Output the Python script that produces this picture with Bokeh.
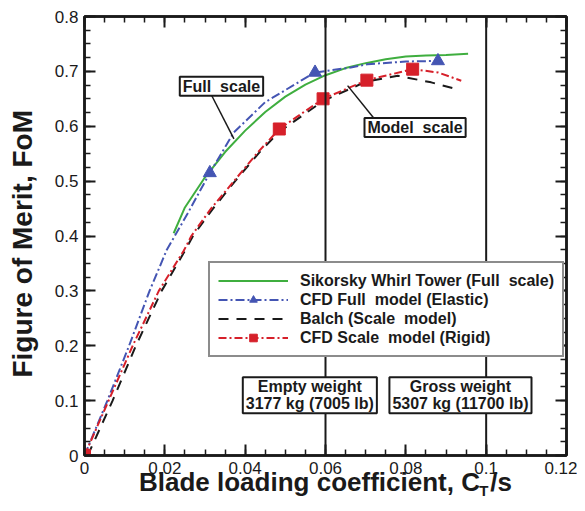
from bokeh.plotting import figure
from bokeh.models import (Range1d, LinearAxis, FixedTicker, NumeralTickFormatter, Span,
                          Label, Legend, LegendItem, Arrow, CustomJSTickFormatter)
from bokeh.embed import file_html
from bokeh.resources import INLINE

# ---- data ----
whirl_x = [0.0222, 0.025, 0.03, 0.035, 0.04, 0.045, 0.05, 0.055, 0.06, 0.065, 0.07, 0.075, 0.08, 0.085, 0.09, 0.0955]
whirl_y = [0.405, 0.452, 0.507, 0.553, 0.592, 0.626, 0.654, 0.676, 0.693, 0.706, 0.715, 0.722, 0.727, 0.729, 0.730, 0.732]

cfd_full_x = [0, 0.0057, 0.0111, 0.0162, 0.0205, 0.0256, 0.0312, 0.0372, 0.045, 0.0539, 0.0574, 0.0663, 0.0705, 0.08, 0.088]
cfd_full_y = [0, 0.1, 0.2, 0.3, 0.375, 0.44, 0.515, 0.589, 0.644, 0.683, 0.698, 0.707, 0.713, 0.718, 0.719]
cfd_full_mx = [0, 0.0312, 0.0574, 0.088]
cfd_full_my = [0, 0.515, 0.698, 0.719]

balch_x = [0.0008, 0.007, 0.0128, 0.0192, 0.025, 0.027, 0.032, 0.0375, 0.0435, 0.0485, 0.0594, 0.07, 0.078, 0.0863, 0.0935]
balch_y = [0, 0.1, 0.2, 0.3, 0.373, 0.4, 0.45, 0.5, 0.552, 0.590, 0.646, 0.681, 0.692, 0.680, 0.666]

cfd_scale_x = [0, 0.006, 0.0120, 0.0185, 0.0247, 0.0266, 0.0315, 0.0372, 0.0431, 0.0485, 0.0594, 0.0703, 0.0817, 0.088, 0.0938]
cfd_scale_y = [0, 0.1, 0.2, 0.3, 0.373, 0.4, 0.45, 0.5, 0.552, 0.595, 0.650, 0.684, 0.704, 0.698, 0.683]
cfd_scale_mx = [0, 0.0485, 0.0594, 0.0703, 0.0817]
cfd_scale_my = [0, 0.595, 0.650, 0.684, 0.704]

x_ticks = [0, 0.02, 0.04, 0.06, 0.08, 0.1, 0.12]
y_ticks = [0, 0.1, 0.2, 0.3, 0.4, 0.5, 0.6, 0.7, 0.8]
weight_lines = [0.06, 0.1]

legend_labels = ["Sikorsky Whirl Tower (Full  scale)", "CFD Full  model (Elastic)",
                 "Balch (Scale  model)", "CFD Scale  model (Rigid)"]

GREEN = "#3fae3f"
BLUE = "#4455b3"
RED = "#d6202a"
INK = "#1a1a1a"
FONT = "Liberation Sans"

p = figure(width=577, height=503, output_backend="svg", toolbar_location=None,
           x_range=Range1d(0, 0.12), y_range=Range1d(0, 0.8),
           min_border_left=84, min_border_top=16, min_border_right=11, min_border_bottom=48)
p.grid.visible = False
p.outline_line_color = INK
p.outline_line_width = 2.5
p.background_fill_color = "white"

def style_axis(ax):
    ax.axis_line_width = 2.5
    ax.axis_line_color = INK
    ax.major_tick_in = 11
    ax.major_tick_out = 0
    ax.minor_tick_in = 6
    ax.minor_tick_out = 0
    ax.major_tick_line_width = 2
    ax.minor_tick_line_width = 1.5
    ax.major_tick_line_color = INK
    ax.minor_tick_line_color = INK
    ax.major_label_text_font = FONT
    ax.major_label_text_font_size = "17px"
    ax.major_label_text_color = INK

xt = FixedTicker(ticks=x_ticks, minor_ticks=[i * 0.005 for i in range(25)])
yt = FixedTicker(ticks=y_ticks, minor_ticks=[i * 0.025 for i in range(33)])
blank = CustomJSTickFormatter(code="return ''")

p.xaxis.ticker = xt
p.yaxis.ticker = yt
p.xaxis.formatter = NumeralTickFormatter(format="0.[00]")
p.yaxis.formatter = NumeralTickFormatter(format="0.[0]")
style_axis(p.xaxis[0])
style_axis(p.yaxis[0])
p.xaxis.major_label_standoff = 6
p.yaxis.major_label_standoff = 6
p.yaxis.axis_label = "Figure of Merit, FoM\u00a0\u00a0"
p.yaxis.axis_label_text_font = FONT
p.yaxis.axis_label_text_font_size = "28px"
p.yaxis.axis_label_text_font_style = "bold"
p.yaxis.axis_label_text_color = INK
p.yaxis.axis_label_standoff = 14

# x title: "C" and "/s" with a gap for the subscript T drawn by a second, bare axis
p.xaxis.axis_label = "Blade loading coefficient, C\u2009\u2009/s"
p.xaxis.axis_label_text_font = FONT
p.xaxis.axis_label_text_font_size = "26px"
p.xaxis.axis_label_text_font_style = "bold"
p.xaxis.axis_label_text_color = INK
p.xaxis.axis_label_standoff = -10

sub = LinearAxis(ticker=FixedTicker(ticks=[]), formatter=blank,
                 axis_label="\u00a0" * 76 + "T", axis_label_text_font=FONT,
                 axis_label_text_font_size="15px", axis_label_text_font_style="bold",
                 axis_label_text_color=INK, axis_label_standoff=-18,
                 axis_line_alpha=0, major_tick_in=0, major_tick_out=0,
                 minor_tick_in=0, minor_tick_out=0, major_label_standoff=0)
p.add_layout(sub, "below")

top = LinearAxis(ticker=xt, formatter=blank)
right = LinearAxis(ticker=yt, formatter=blank)
style_axis(top)
style_axis(right)
top.major_label_standoff = 0
right.major_label_standoff = 0
p.add_layout(top, "above")
p.add_layout(right, "right")

# vertical weight lines
for loc in weight_lines:
    p.add_layout(Span(location=loc, dimension="height", line_color=INK, line_width=2))

# curves
g = p.line(whirl_x, whirl_y, line_color=GREEN, line_width=2)
b = p.line(cfd_full_x, cfd_full_y, line_color=BLUE, line_width=2, line_dash="9 3 2 3")
bm = p.scatter(cfd_full_mx, cfd_full_my, marker="triangle", size=13, fill_color=BLUE, line_color=BLUE)
k = p.line(balch_x, balch_y, line_color=INK, line_width=2, line_dash="10 8")
r = p.line(cfd_scale_x, cfd_scale_y, line_color=RED, line_width=2, line_dash="8 3 2 3")
rm = p.scatter(cfd_scale_mx, cfd_scale_my, marker="square", size=12, fill_color=RED, line_color=RED)

legend = Legend(items=[LegendItem(label=legend_labels[0], renderers=[g]),
                       LegendItem(label=legend_labels[1], renderers=[b, bm]),
                       LegendItem(label=legend_labels[2], renderers=[k]),
                       LegendItem(label=legend_labels[3], renderers=[r, rm])],
                location=(124, 98), margin=0, padding=8, spacing=0,
                glyph_width=70, glyph_height=19, label_height=19, label_standoff=12,
                label_text_font=FONT, label_text_font_size="16px", label_text_font_style="bold",
                label_text_color=INK,
                border_line_color=INK, border_line_width=2,
                background_fill_color="white", background_fill_alpha=1)
p.add_layout(legend, "center")

# annotation boxes
box_style = dict(text_font=FONT, text_font_style="bold", text_color=INK,
                 text_align="center", text_baseline="middle", text_font_size="16px",
                 text_line_height=1.0,
                 border_line_color=INK, border_line_width=2, padding=dict(x=3, y=1),
                 background_fill_color="white", background_fill_alpha=1)
p.add_layout(Arrow(end=None, x_start=0.0316, y_start=0.657, x_end=0.0372, y_end=0.577,
                   line_color=INK, line_width=1.5))
p.add_layout(Arrow(end=None, x_start=0.0720, y_start=0.615, x_end=0.0655, y_end=0.674,
                   line_color=INK, line_width=1.5))
p.add_layout(Label(x=0.0341, y=0.673, text="Full\u00a0\u00a0scale", **box_style))
p.add_layout(Label(x=0.0823, y=0.5975, text="Model\u00a0\u00a0scale", **box_style))
p.add_layout(Label(x=0.0561, y=0.110, text="Empty weight\n3177 kg (7005 lb)", **box_style))
p.add_layout(Label(x=0.0936, y=0.110, text="Gross weight\n5307 kg (11700 lb)", **box_style))

open("out.html", "w").write(file_html(p, INLINE))
